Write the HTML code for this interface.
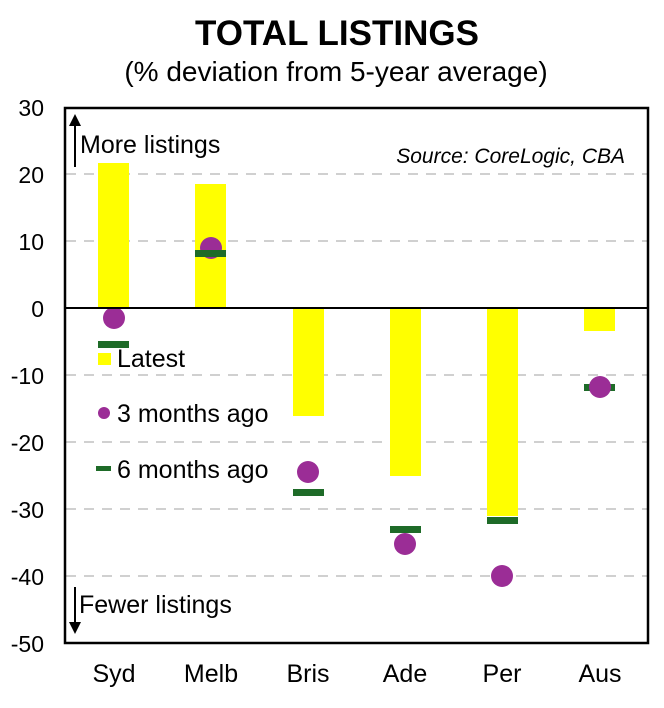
<!DOCTYPE html>
<html><head><meta charset="utf-8"><style>
body{margin:0;background:#fff;}
svg{display:block;font-family:"Liberation Sans",Arial,sans-serif;}
</style></head><body>
<svg width="664" height="708" viewBox="0 0 664 708">
<text x="337" y="45" text-anchor="middle" font-size="35" font-weight="bold">TOTAL LISTINGS</text>
<text x="336" y="81" text-anchor="middle" font-size="28">(% deviation from 5-year average)</text>
<g stroke="#d0d0d0" stroke-width="2" stroke-dasharray="10,8">
<line x1="66" y1="174" x2="647" y2="174"/>
<line x1="66" y1="241" x2="647" y2="241"/>
<line x1="66" y1="375" x2="647" y2="375"/>
<line x1="66" y1="442" x2="647" y2="442"/>
<line x1="66" y1="509" x2="647" y2="509"/>
<line x1="66" y1="576" x2="647" y2="576"/>
</g>
<g fill="#ffff00">
<rect x="98" y="163" width="31" height="145"/>
<rect x="195" y="184" width="31" height="124"/>
<rect x="293" y="308" width="31" height="108"/>
<rect x="390" y="308" width="31" height="168"/>
<rect x="487" y="308" width="31" height="208"/>
<rect x="584" y="308" width="31" height="23"/>
</g>
<g fill="#1e6b28">
<rect x="98" y="341" width="31" height="7"/>
<rect x="293" y="489" width="31" height="7"/>
<rect x="390" y="526" width="31" height="7"/>
<rect x="487" y="517" width="31" height="7"/>
<rect x="584" y="384" width="31" height="7"/>
</g>
<g fill="#9b2d96">
<circle cx="114" cy="318" r="11"/>
<circle cx="211" cy="248" r="11"/>
<circle cx="308" cy="472" r="11"/>
<circle cx="405" cy="544" r="11"/>
<circle cx="502" cy="576" r="11"/>
<circle cx="600" cy="387" r="11"/>
</g>
<g fill="#1e6b28"><rect x="195" y="250" width="31" height="7"/></g>
<line x1="66" y1="308" x2="647" y2="308" stroke="#000" stroke-width="2"/>
<rect x="65" y="108" width="583" height="535" fill="none" stroke="#000" stroke-width="2.5"/>
<g font-size="23" text-anchor="end">
<text x="44" y="116">30</text><text x="44" y="183">20</text><text x="44" y="250">10</text>
<text x="44" y="317">0</text><text x="44" y="384">-10</text><text x="44" y="451">-20</text>
<text x="44" y="518">-30</text><text x="44" y="585">-40</text><text x="44" y="652">-50</text>
</g>
<g font-size="25" text-anchor="middle">
<text x="114" y="682">Syd</text><text x="211" y="682">Melb</text><text x="308" y="682">Bris</text>
<text x="405" y="682">Ade</text><text x="502" y="682">Per</text><text x="600" y="682">Aus</text>
</g>
<text x="625" y="163" text-anchor="end" font-size="21" font-style="italic">Source: CoreLogic, CBA</text>
<line x1="75" y1="167" x2="75" y2="124" stroke="#000" stroke-width="2"/>
<polygon points="69,126 81,126 75,114" fill="#000"/>
<text x="80" y="153" font-size="25">More listings</text>
<line x1="75" y1="587" x2="75" y2="624" stroke="#000" stroke-width="2"/>
<polygon points="69,622 81,622 75,634" fill="#000"/>
<text x="79" y="613" font-size="25">Fewer listings</text>
<rect x="98" y="353" width="13" height="12" fill="#ffff00"/>
<text x="117" y="367" font-size="25">Latest</text>
<circle cx="104" cy="413" r="6" fill="#9b2d96"/>
<text x="117" y="422" font-size="25">3 months ago</text>
<rect x="96" y="466" width="15" height="5" fill="#1e6b28"/>
<text x="117" y="478" font-size="25">6 months ago</text>
</svg>
</body></html>
